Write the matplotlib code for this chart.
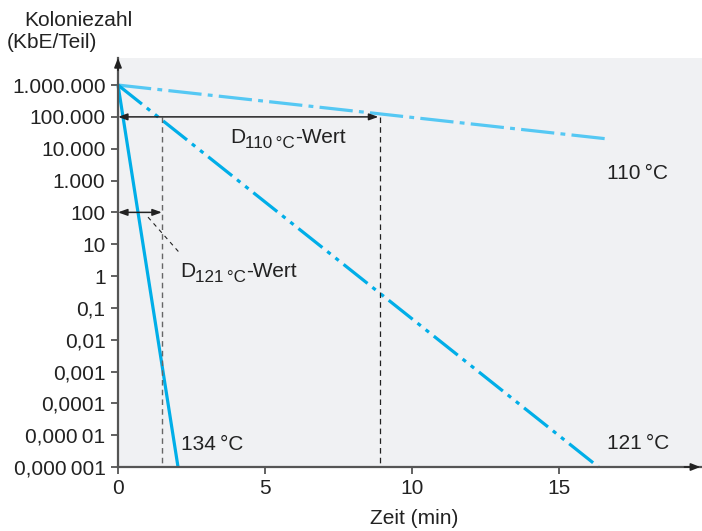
import matplotlib
matplotlib.use("Agg")
import matplotlib.pyplot as plt
from matplotlib.transforms import offset_copy

plt.rcParams['font.family'] = ['Liberation Sans', 'DejaVu Sans']
plt.rcParams['lines.scale_dashes'] = False

# Survivor curves: start and end points (time in min, colony count)
t_110 = [0, 16.7]
n_110 = [1e6, 2e4]
t_121 = [0, 16.33]
n_121 = [1e6, 1e-6]
t_134 = [0, 2.04]
n_134 = [1e6, 1e-6]

# D-value markers
d110_time = 8.9
d110_level = 1e5
d121_time = 1.49
d121_level = 1e2

y_ticks = [1e-6, 1e-5, 1e-4, 1e-3, 1e-2, 1e-1, 1, 10, 100, 1e3, 1e4, 1e5, 1e6]
y_labels = ["0,000\u2009001", "0,000\u200901", "0,0001", "0,001", "0,01", "0,1",
            "1", "10", "100", "1.000", "10.000", "100.000", "1.000.000"]
x_ticks = [0, 5, 10, 15]

c_light = "#55c8f3"
c_cyan = "#00aee8"
axis_col = "#555555"
txt_col = "#222222"
fs = 15

fig = plt.figure(figsize=(7.02, 5.31), dpi=100)
W, H = 702, 531
ax = fig.add_axes([118 / W, (H - 467) / H, (W - 118) / W, (467 - 58) / H])
ax.set_facecolor("#f0f1f3")
ax.set_yscale("log")
ax.set_xlim(0, 19.85)
ax.set_ylim(1e-6, 10 ** 6.85)

for s in ["top", "right"]:
    ax.spines[s].set_visible(False)
for s in ["left", "bottom"]:
    ax.spines[s].set_color(axis_col)
    ax.spines[s].set_linewidth(1.6)

# axis arrows
head = "-|>,head_length=0.55,head_width=0.22"
ax.annotate("", xy=(0, 1.0), xycoords="axes fraction", xytext=(0, 0.97),
            arrowprops=dict(arrowstyle=head, color=txt_col, lw=1.2,
                            shrinkA=0, shrinkB=0))
ax.annotate("", xy=(0.997, 0), xycoords="axes fraction", xytext=(0.97, 0),
            arrowprops=dict(arrowstyle=head, color=txt_col, lw=1.2,
                            shrinkA=0, shrinkB=0))

ax.set_yticks(y_ticks)
ax.set_yticklabels(y_labels)
ax.yaxis.set_minor_locator(matplotlib.ticker.NullLocator())
ax.set_xticks(x_ticks)
ax.set_xticklabels([str(v) for v in x_ticks])
ax.tick_params(axis="both", labelsize=fs, color=axis_col, width=1.3, length=5,
               labelcolor=txt_col, pad=4)

# survivor curves
ax.plot(t_110, n_110, color=c_light, lw=2.3, dashes=(24, 4.5, 3.5, 4.5),
        dash_capstyle="butt", clip_on=False)
ax.plot(t_121, n_121, color=c_cyan, lw=2.3, dashes=(22, 4.5, 3, 4.5, 3, 4.5),
        dash_capstyle="butt", clip_on=False)
ax.plot(t_134, n_134, color=c_cyan, lw=2.3, solid_capstyle="butt", clip_on=False)

# D-value construction lines
ax.plot([d110_time, d110_time], [d110_level, 1e-6], color=txt_col, lw=0.9,
        dashes=(4, 3))
ax.plot([d121_time, d121_time], [d110_level, 1e-6], color="#666666", lw=1.0,
        dashes=(4, 3))
arrow = dict(arrowstyle="<|-|>,head_length=0.55,head_width=0.2", color=txt_col,
             lw=1.1, shrinkA=0, shrinkB=0)
ax.annotate("", xy=(0, d110_level), xytext=(d110_time - 0.05, d110_level),
            arrowprops=arrow)
ax.annotate("", xy=(0, d121_level), xytext=(d121_time, d121_level),
            arrowprops=arrow)
ax.plot([1.02, 2.1], [10 ** 1.85, 10 ** 0.72], color=txt_col, lw=0.8,
        dashes=(3, 3))

fig.canvas.draw()
renderer = fig.canvas.get_renderer()


def d_label(x, y, sub):
    """Draw 'D<sub>-Wert' with a slightly reduced, lowered subscript."""
    t1 = ax.text(x, y, "D", fontsize=fs, color=txt_col, va="baseline", ha="left")
    w1 = t1.get_window_extent(renderer).width
    tr = offset_copy(ax.transData, fig=fig, x=w1, y=-5, units="dots")
    t2 = ax.text(x, y, sub, fontsize=fs * 0.82, color=txt_col, va="baseline",
                 ha="left", transform=tr)
    w2 = t2.get_window_extent(renderer).width
    tr3 = offset_copy(ax.transData, fig=fig, x=w1 + w2, y=0, units="dots")
    ax.text(x, y, "-Wert", fontsize=fs, color=txt_col, va="baseline",
            ha="left", transform=tr3)


d_label(3.81, 10 ** 4.18, "110\u2009°C")
d_label(2.11, 10 ** -0.04, "121\u2009°C")

ax.text(16.63, 10 ** 3.23, "110\u2009°C", fontsize=fs, color=txt_col,
        va="center", ha="left")
ax.text(16.63, 10 ** -5.26, "121\u2009°C", fontsize=fs, color=txt_col,
        va="center", ha="left")
ax.text(2.14, 10 ** -5.29, "134\u2009°C", fontsize=fs, color=txt_col,
        va="center", ha="left")

fig.text(24 / W, 1 - 20 / H, "Koloniezahl", fontsize=fs, color=txt_col,
         va="center", ha="left")
fig.text(7 / W, 1 - 43 / H, "(KbE/Teil)", fontsize=fs, color=txt_col,
         va="center", ha="left")
fig.text(414 / W, 1 - 518 / H, "Zeit (min)", fontsize=fs, color=txt_col,
         va="center", ha="center")

fig.savefig("out.png", dpi=100)
